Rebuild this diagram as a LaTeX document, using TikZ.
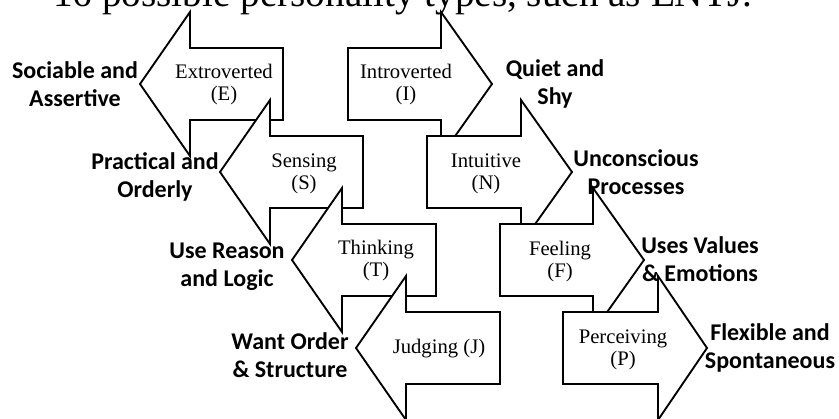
\documentclass[tikz,border=0pt]{standalone}
\usepackage{fontspec}
\setmainfont{Liberation Serif}
\newfontfamily\labelfont{Carlito}
\usetikzlibrary{positioning}

\begin{document}
\begin{tikzpicture}[
    x=0.75pt, y=-0.75pt,
    blockarrow/.style={draw=black, fill=white, line width=1.4pt, line join=miter},
    typetext/.style={font=\fontsize{15.5}{16.5}\selectfont, align=center, inner sep=0pt},
    traittext/.style={font=\labelfont\bfseries\fontsize{18}{20.8}\selectfont, align=center, inner sep=0pt},
    headline/.style={font=\fontsize{29.4}{34}\selectfont, anchor=base west, inner sep=0pt}
]
    \clip (0,0) rectangle (839,418);

    \node[headline] (title) at (53,6) {16 possible personality types, such as ENTJ.};

    % left column, pointing left
    \draw[blockarrow, shift={(140,84)}] (0,0) -- (50,-72) -- (50,-36) -- (143,-36) -- (143,36) -- (50,36) -- (50,72) -- cycle;
    \draw[blockarrow, shift={(220,172)}] (0,0) -- (50,-72) -- (50,-36) -- (143,-36) -- (143,36) -- (50,36) -- (50,72) -- cycle;
    \draw[blockarrow, shift={(292,260)}] (0,0) -- (50,-72) -- (50,-36) -- (144,-36) -- (144,36) -- (50,36) -- (50,72) -- cycle;
    \draw[blockarrow, shift={(356,348)}] (0,0) -- (50,-72) -- (50,-36) -- (144,-36) -- (144,36) -- (50,36) -- (50,72) -- cycle;

    % right column, pointing right
    \draw[blockarrow, shift={(492,84)}] (0,0) -- (-51,-72) -- (-51,-36) -- (-144,-36) -- (-144,36) -- (-51,36) -- (-51,72) -- cycle;
    \draw[blockarrow, shift={(572,172)}] (0,0) -- (-51,-72) -- (-51,-36) -- (-145,-36) -- (-145,36) -- (-51,36) -- (-51,72) -- cycle;
    \draw[blockarrow, shift={(644,260)}] (0,0) -- (-51,-72) -- (-51,-36) -- (-144,-36) -- (-144,36) -- (-51,36) -- (-51,72) -- cycle;
    \draw[blockarrow, shift={(707,348)}] (0,0) -- (-49,-72) -- (-49,-36) -- (-144,-36) -- (-144,36) -- (-49,36) -- (-49,72) -- cycle;

    \node[typetext] (ext) at (224,85) {Extroverted\\(E)};
    \node[typetext] (sens) at (304,174) {Sensing\\(S)};
    \node[typetext] (think) at (376,261) {Thinking\\(T)};
    \node[typetext] (judge) at (439,349) {Judging (J)};
    \node[typetext] (intro) at (406,85) {Introverted\\(I)};
    \node[typetext] (intu) at (486,174) {Intuitive\\(N)};
    \node[typetext] (feel) at (560,262) {Feeling\\(F)};
    \node[typetext] (perc) at (623,350) {Perceiving\\(P)};

    \node[traittext] (sociable) at (75,84) {Sociable and\\Assertive};
    \node[traittext] (practical) at (155,177) {Practical and\\Orderly};
    \node[traittext] (reason) at (227,267) {Use Reason\\and Logic};
    \node[traittext] (order) at (290,355) {Want Order\\\& Structure};
    \node[traittext] (quiet) at (555,84) {Quiet and\\Shy};
    \node[traittext] (unconscious) at (636,172) {Unconscious\\Processes};
    \node[traittext] (values) at (700,259) {Uses Values\\\& Emotions};
    \node[traittext] (flexible) at (770,348) {Flexible and\\Spontaneous};

\end{tikzpicture}
\end{document}
